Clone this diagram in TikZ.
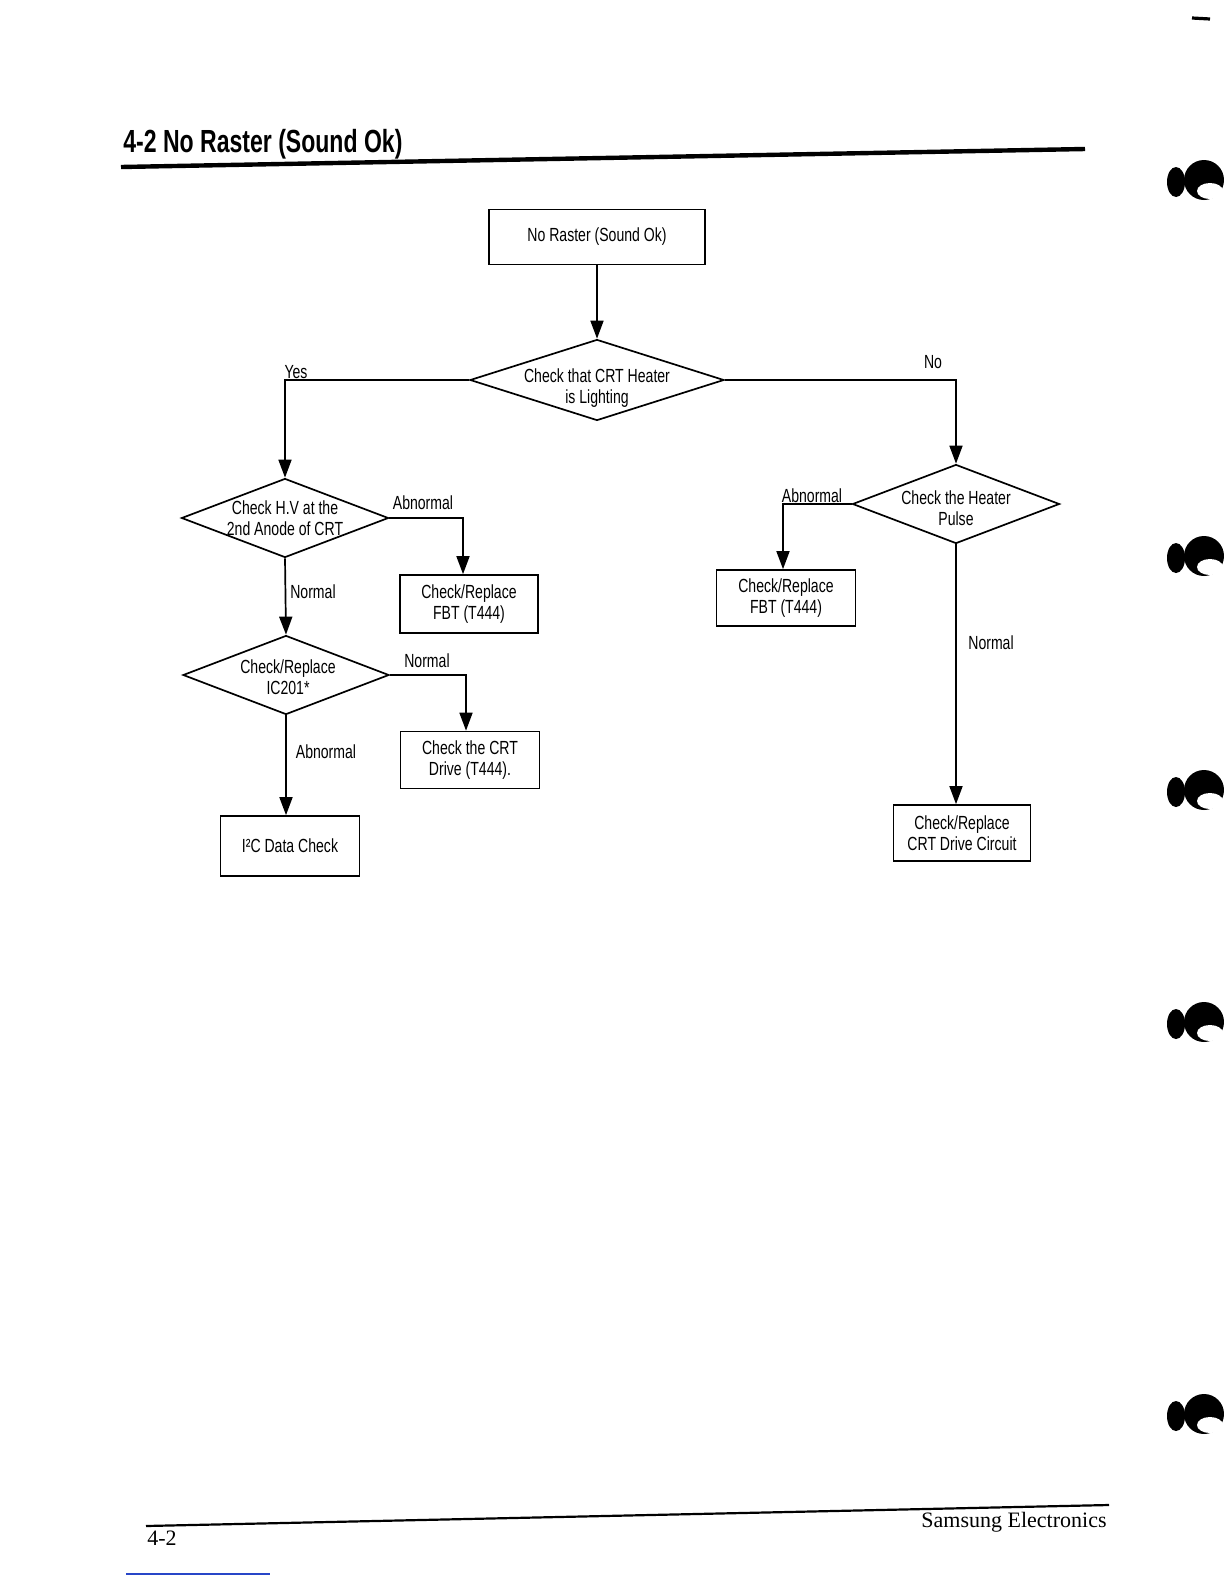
\documentclass[tikz,border=0pt]{standalone}
\usepackage{fontspec}
\setmainfont{Liberation Sans}
\newfontfamily\cond[FakeStretch=0.74]{Liberation Sans}
\newfontfamily\condtitle[FakeStretch=0.72]{Liberation Sans}
\newfontfamily\footf{Liberation Serif}
\usetikzlibrary{shapes.geometric,arrows.meta}
\definecolor{footblue}{RGB}{40,70,200}
\begin{document}
\begin{tikzpicture}[x=0.5bp,y=-0.5bp,
  ln/.style={line width=0.85bp},
  arr/.style={ln,-{Triangle[length=9bp,width=6.5bp]}},
  txtf/.style={font=\cond\fontsize{9.5bp}{10.5bp}\selectfont},
  box/.style={draw,ln,align=center,inner sep=0pt,txtf},
  dia/.style={draw,ln,diamond,inner sep=0pt},
  dtxt/.style={align=center,inner sep=0pt,txtf},
  lbl/.style={inner sep=0pt,txtf},
  blob/.style={fill=black}]
\useasboundingbox (0,0) rectangle (1224,1584);

% title
\node[anchor=base west,inner sep=0pt,font=\condtitle\bfseries\fontsize{16bp}{18bp}\selectfont] (title) at (123,152) {4-2 No Raster (Sound Ok)};
\coordinate (tr1) at (121,167);
\coordinate (tr2) at (1085,149);
\draw[line width=2.2bp] (tr1) -- (tr2);

% nodes
\node[box,minimum width=108bp,minimum height=27.5bp] (start) at (597,237) {No Raster (Sound Ok)};

\node[dia,minimum width=127bp,minimum height=40.5bp] (d1) at (597,380) {};
\node[dtxt] (d1t) at (597,388) {Check that CRT Heater\\is Lighting};

\node[dia,minimum width=103.5bp,minimum height=39.5bp] (d2) at (285,518) {};
\node[dtxt] (d2t) at (d2) {Check H.V at the\\2nd Anode of CRT};

\node[dia,minimum width=103bp,minimum height=39.5bp] (d3) at (286,675) {};
\node[dtxt] (d3t) at (288,677) {Check/Replace\\IC201*};

\node[dia,minimum width=103.5bp,minimum height=39.5bp] (d4) at (956,504) {};
\node[dtxt] (d4t) at (956,508) {Check the Heater\\Pulse};

\node[box,minimum width=69bp,minimum height=29bp] (fbt1) at (469,604) {Check/Replace\\FBT (T444)};
\node[box,minimum width=69.5bp,minimum height=28.5bp] (drv) at (470,760) {Check the CRT\\Drive (T444).};
\node[box,minimum width=69.5bp,minimum height=30bp] (i2c) at (290,846) {I²C Data Check};
\node[box,minimum width=69.5bp,minimum height=28bp] (fbt2) at (786,598) {Check/Replace\\FBT (T444)};
\node[box,minimum width=68.5bp,minimum height=28bp] (crt) at (962,833) {Check/Replace\\CRT Drive Circuit};

% helper x positions
\coordinate (x1) at (463,0);
\coordinate (x2) at (466,0);
\coordinate (x4) at (783,0);
\coordinate (x5) at (956,0);

% connectors
\draw[arr] (start) -- (d1);
\draw[arr] (d1.west) -| (d2.north);
\draw[arr] (d1.east) -| (d4.north);
\draw[arr] (d2.east) -| (fbt1.north -| x1);
\draw[arr] (d2.south) -- (d3.north);
\draw[arr] (d3.east) -| (drv.north -| x2);
\draw[arr] (d3.south) -- (i2c.north -| d3.south);
\draw[arr] (d4.west) -| (fbt2.north -| x4);
\draw[arr] (d4.south) -- (crt.north -| x5);

% labels
\node[lbl] (lyes) at (296,372) {Yes};
\node[lbl] (lno) at (933,362) {No};
\node[lbl] (la1) at (423,503) {Abnormal};
\node[lbl] (ln1) at (313,592) {Normal};
\node[lbl] (ln2) at (427,661) {Normal};
\node[lbl] (la2) at (326,752) {Abnormal};
\node[lbl] (la3) at (812,496) {Abnormal};
\node[lbl] (ln3) at (991,643) {Normal};

% footer
\coordinate (fr1) at (146,1526);
\coordinate (fr2) at (1109,1505);
\draw[line width=1.1bp] (fr1) -- (fr2);
\node[inner sep=0pt,font=\footf\fontsize{11bp}{13bp}\selectfont] (pg) at (162,1538) {4-2};
\node[inner sep=0pt,font=\footf\fontsize{11bp}{13bp}\selectfont] (se) at (1014,1522) {Samsung Electronics};
\coordinate (b1) at (126,1574);
\coordinate (b2) at (270,1574);
\draw[footblue,line width=0.6bp] (b1) -- (b2);

% scan marks at the right edge
\draw[line width=1.6bp] (1192,18) -- (1210,19);
\foreach \yy in {180,556,790,1022,1414}{
  \fill[blob] (1204,\yy) circle (20);
  \fill[white] (1210,\yy+11) ellipse (13 and 8);
  \fill[blob] (1176,\yy+2) ellipse (9 and 15);
}
\end{tikzpicture}
\end{document}
